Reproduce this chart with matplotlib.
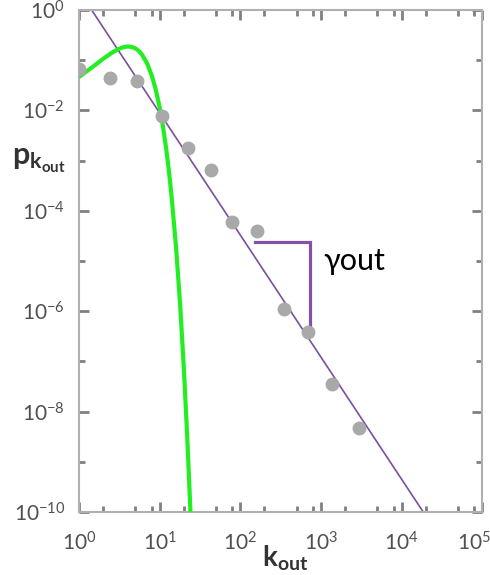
import matplotlib
matplotlib.use("Agg")
import matplotlib.pyplot as plt
from matplotlib.ticker import LogLocator, NullFormatter, FixedLocator
from matplotlib.transforms import ScaledTranslation

plt.rcParams['font.family'] = ['Lato', 'DejaVu Sans']
plt.rcParams['mathtext.fontset'] = 'custom'
plt.rcParams['mathtext.rm'] = 'Lato:light'
plt.rcParams['mathtext.bf'] = 'Lato:bold'
plt.rcParams['mathtext.default'] = 'regular'

# measured out-degree distribution (gray dots)
k_data = [1, 2.4, 5.3, 10.7, 22.6, 43, 79, 160, 345, 690, 1370, 2990]
p_data = [0.068, 0.044, 0.039, 7.6e-3, 1.76e-3, 6.5e-4, 6e-5, 4e-5,
          1.1e-6, 3.9e-7, 3.5e-8, 4.7e-9]

# power-law fit line (purple), end points
fit_k = [1.44, 18600]
fit_p = [1.0, 1e-10]

# poisson curve (green)
pois_k = [1, 1.5, 2, 2.5, 3, 3.5, 4, 4.5, 5, 5.5, 6, 7, 8, 9, 10,
          11, 12, 13, 14, 16, 18, 20, 22, 24, 25]
pois_p = [0.0462, 0.0746, 0.1064, 0.1372, 0.1631, 0.1804, 0.1875, 0.1844,
          0.1725, 0.1542, 0.1323, 0.0869, 0.0500, 0.0255, 0.01175,
          4.91e-3, 1.88e-3, 6.67e-4, 2.19e-4, 1.93e-5, 1.34e-6, 7.43e-8,
          3.40e-9, 1.31e-10, 2.4e-11]

# slope marker
tri_k = [154, 729, 729]
tri_p = [2.36e-5, 2.36e-5, 3.9e-7]

fig = plt.figure(figsize=(4.9, 5.75), dpi=100)
ax = fig.add_axes([0.161, 0.1096, 0.823, 0.873])

ax.plot(pois_k, pois_p, color='#22ee22', lw=3, solid_capstyle='butt', zorder=3)
ax.plot(fit_k, fit_p, color='#7a4f9e', lw=1.2, zorder=2)
ax.plot(k_data, p_data, 'o', color='#a9a9a9', ms=10, mec='none', zorder=4)
ax.plot(tri_k, tri_p, color='#8352a6', lw=2.3, solid_joinstyle='miter', zorder=2)
ax.text(1060, 6.6e-6, 'γout', fontsize=22, color='black',
        ha='left', va='baseline')

ax.set_xscale('log')
ax.set_yscale('log')
ax.set_xlim(1, 1e5)
ax.set_ylim(1e-10, 1)

ax.xaxis.set_major_locator(LogLocator(base=10, numticks=10))
ax.xaxis.set_minor_locator(LogLocator(base=10, subs=[2, 5, 8], numticks=20))
ax.xaxis.set_minor_formatter(NullFormatter())
ax.yaxis.set_major_locator(FixedLocator([1e-10, 1e-8, 1e-6, 1e-4, 1e-2, 1]))
ax.yaxis.set_minor_locator(FixedLocator([1e-9, 1e-7, 1e-5, 1e-3, 1e-1]))
ax.yaxis.set_minor_formatter(NullFormatter())

for s in ax.spines.values():
    s.set_color('#b0b0b0')
    s.set_linewidth(1.5)
ax.tick_params(which='both', direction='in', top=True, right=True,
               color='#808080', labelcolor='#505050', labelsize=15)
ax.tick_params(which='major', length=7, width=2)
ax.tick_params(which='minor', length=4.5, width=2)
ax.tick_params(axis='x', which='major', pad=14)
ax.tick_params(axis='y', which='major', pad=10)

ax.set_xlabel(r'$\mathbf{k}_{\mathbf{out}}$', fontsize=20, color='#333333',
              va='top')
ax.xaxis.set_label_coords(0.512, -0.063)
ax.set_ylabel(r'$\mathbf{p}_{\mathbf{k}_{\mathbf{out}}}$', fontsize=22, color='#333333',
              rotation=0, va='center', ha='center')
ax.yaxis.set_label_coords(-0.10, 0.70)

# nudge the last x label so it stays inside the figure
fig.canvas.draw()
for t in ax.xaxis.get_major_ticks():
    if abs(t.get_loc() - 1e5) < 1:
        t.label1.set_transform(t.label1.get_transform() +
                               ScaledTranslation(-8 / 100, 0, fig.dpi_scale_trans))

fig.savefig('out.png', dpi=100)
